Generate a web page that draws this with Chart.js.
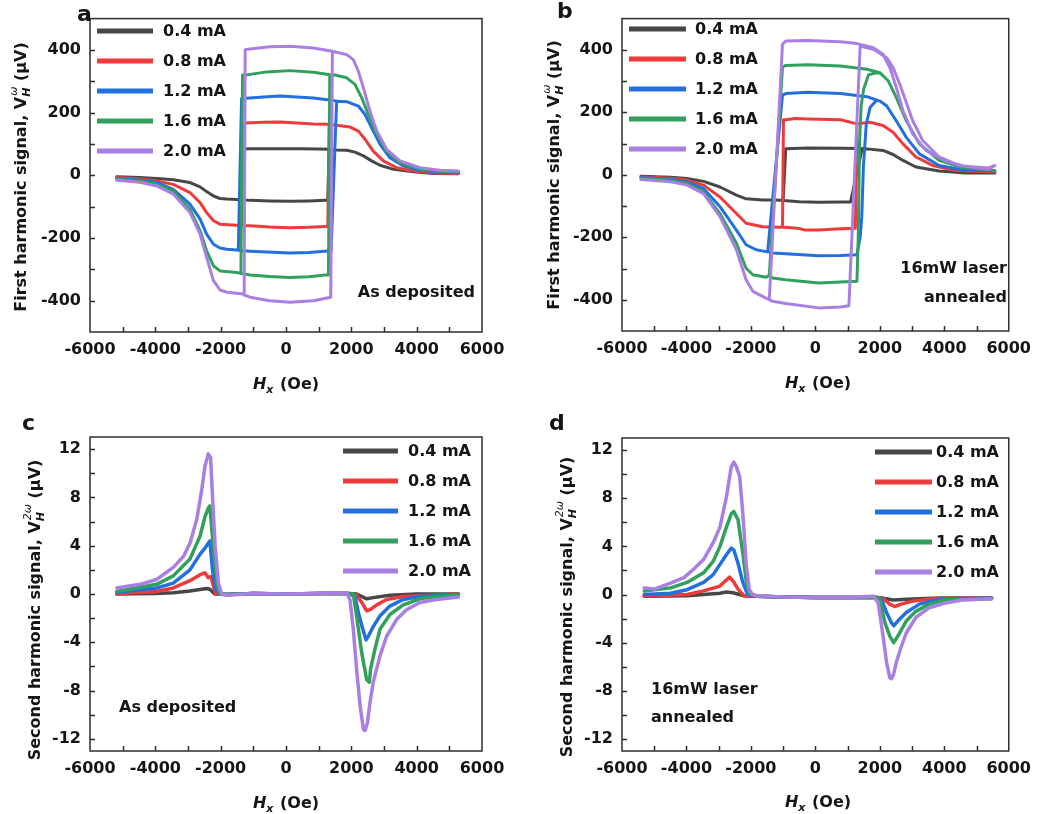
<!DOCTYPE html>
<html>
<head>
<meta charset="utf-8">
<title>Harmonic Hall signals</title>
<script src="https://cdn.jsdelivr.net/npm/chart.js@4.4.1/dist/chart.umd.min.js"></script>
<style>
  body { margin: 0; background: #fff; }
  .wrap { position: relative; width: 1039px; height: 814px; overflow: hidden; }
  canvas { position: absolute; }
</style>
</head>
<body>
<div class="wrap">
  <canvas id="chartA" width="520" height="410" style="left:0;top:0"></canvas>
  <canvas id="chartB" width="519" height="410" style="left:520px;top:0"></canvas>
  <canvas id="chartC" width="520" height="404" style="left:0;top:410px"></canvas>
  <canvas id="chartD" width="519" height="404" style="left:520px;top:410px"></canvas>
</div>
<script>
const currents = ['0.4 mA', '0.8 mA', '1.2 mA', '1.6 mA', '2.0 mA'];
const colors = ['#474747', '#ee3a3a', '#2270df', '#31a05c', '#a97fe4'];
const xTicks = [-6000, -4000, -2000, 0, 2000, 4000, 6000];
const firstTicks = [-400, -200, 0, 200, 400];
const secondTicks = [-12, -8, -4, 0, 4, 8, 12];

// first harmonic loops: negative tail, lower branch, positive tail, upper branch (Hx in Oe, signal in uV)
// panel a, as deposited
const a04Neg = [[-5180,-5],[-4470,-7],[-3960,-10],[-3450,-14],[-2940,-23],[-2630,-37],[-2430,-52],[-2220,-66],[-2020,-74],[-1810,-76],[-1510,-77],[-1350,-78]];
const a04Low = [[-1100,-80],[-500,-82],[120,-83],[700,-82],[1200,-80],[1280,-80]];
const a04Pos = [[1320,83],[1500,81],[1860,80],[2110,74],[2370,62],[2620,46],[2880,32],[3290,19],[3900,11],[4510,6],[5280,5]];
const a04Up = [[1000,84],[400,85],[-180,85],[-700,85],[-1100,85],[-1300,84]];

const a08Neg = [[-5180,-7],[-4470,-11],[-3960,-18],[-3450,-29],[-2940,-55],[-2630,-87],[-2430,-119],[-2220,-145],[-2020,-156],[-1510,-159],[-1350,-160]];
const a08Low = [[-1100,-161],[-500,-165],[120,-167],[700,-166],[1200,-163],[1280,-163]];
const a08Pos = [[1320,163],[1550,160],[1960,154],[2215,141],[2420,115],[2670,77],[2980,46],[3390,24],[3900,14],[4510,7],[5280,6]];
const a08Up = [[840,164],[-180,170],[-700,169],[-1100,168],[-1300,167]];

const a12Neg = [[-5180,-10],[-4470,-15],[-3960,-23],[-3450,-45],[-2940,-92],[-2630,-140],[-2430,-188],[-2220,-220],[-2020,-232],[-1810,-236],[-1510,-238],[-1460,-239]];
const a12Low = [[-1300,-241],[-1100,-242],[120,-248],[700,-246],[1380,-241]];
const a12Pos = [[1550,236],[1860,235],[1960,231],[2215,221],[2420,194],[2620,152],[2880,99],[3180,56],[3590,30],[4100,16],[4710,10],[5280,8]];
const a12Up = [[1450,239],[840,247],[-180,253],[-700,250],[-1100,247],[-1360,245]];

const a16Neg = [[-5180,-12],[-4470,-18],[-3960,-29],[-3450,-50],[-2940,-108],[-2630,-177],[-2430,-241],[-2220,-289],[-2020,-305],[-1510,-310],[-1380,-313]];
const a16Low = [[-1100,-318],[-500,-323],[120,-326],[700,-324],[1200,-318],[1300,-318]];
const a16Pos = [[1340,321],[1500,320],[1860,311],[2110,290],[2320,247],[2520,194],[2780,131],[3080,77],[3490,40],[4100,19],[4710,12],[5280,10]];
const a16Up = [[840,329],[120,334],[-600,330],[-1100,322],[-1330,320]];

const a20Neg = [[-5180,-16],[-4470,-22],[-3960,-34],[-3450,-60],[-2940,-119],[-2630,-188],[-2430,-262],[-2220,-336],[-2020,-366],[-1810,-373],[-1310,-379],[-1280,-382]];
const a20Low = [[-1100,-389],[-500,-400],[120,-405],[840,-400],[1370,-389]];
const a20Pos = [[1420,396],[1860,385],[2060,369],[2215,332],[2370,279],[2570,205],[2780,141],[3080,83],[3490,46],[4100,24],[4710,16],[5280,14]];
const a20Up = [[840,406],[120,412],[-500,410],[-1100,403],[-1250,401]];

// panel b, 16mW laser annealed
const b04Neg = [[-5410,-5],[-4490,-8],[-3980,-12],[-3470,-21],[-2960,-39],[-2450,-65],[-2150,-77],[-1640,-81],[-1230,-81],[-1000,-82]];
const b04Low = [[-500,-86],[100,-88],[780,-87],[1090,-87],[1440,78]];
const b04Pos = [[1600,83],[2100,78],[2410,65],[2720,46],[3120,25],[3840,12],[4650,6],[5570,6]];
const b04Up = [[1400,84],[780,85],[-240,86],[-920,83]];

const b08Neg = [[-5410,-7],[-4490,-11],[-3980,-17],[-3470,-33],[-2960,-71],[-2450,-124],[-2150,-155],[-1640,-166],[-1130,-168],[-1020,-168]];
const b08Low = [[-920,-168],[-500,-172],[-310,-177],[100,-177],[780,-173],[1240,-171]];
const b08Pos = [[1290,163],[1700,168],[2100,158],[2410,136],[2720,99],[3120,57],[3640,30],[4350,14],[5570,9]];
const b08Up = [[780,176],[-240,179],[-620,180],[-920,176],[-990,176]];

const b12Neg = [[-5410,-9],[-4490,-14],[-3980,-23],[-3470,-44],[-2960,-102],[-2450,-177],[-2150,-224],[-1840,-240],[-1530,-246],[-1480,-246]];
const b12Low = [[-1330,-250],[-920,-253],[100,-259],[780,-258],[1290,-256],[1390,-200],[1440,-134],[1490,25],[1580,163],[1700,216],[1900,239]];
const b12Pos = [[2000,236],[2210,221],[2510,173],[2820,120],[3230,67],[3840,30],[4550,16],[5570,12]];
const b12Up = [[1600,250],[780,260],[-240,264],[-920,260],[-1020,255]];

const b16Neg = [[-5410,-11],[-4490,-17],[-3980,-28],[-3470,-55],[-2960,-124],[-2450,-219],[-2150,-299],[-1940,-320],[-1530,-328],[-1430,-322]];
const b16Low = [[-1330,-330],[-920,-336],[100,-346],[780,-343],[1290,-341],[1330,-200],[1370,100],[1420,220],[1500,275],[1650,320],[1850,326]];
const b16Pos = [[2000,327],[2260,301],[2510,248],[2820,173],[3230,99],[3840,46],[4550,23],[5570,14]];
const b16Up = [[1600,338],[780,348],[-240,352],[-920,350],[-1020,345]];

const b20Neg = [[-5410,-15],[-4490,-22],[-3980,-33],[-3470,-60],[-2960,-134],[-2450,-240],[-2150,-336],[-1940,-373],[-1640,-389],[-1430,-400]];
const b20Low = [[-1330,-405],[-920,-412],[100,-426],[780,-423],[1040,-419],[1390,412],[1800,402],[2210,375],[2410,343],[2620,290],[2820,232],[3020,173],[3330,110],[3840,57],[4450,30],[5370,18]];
const b20Pos = [[5570,30]];
const b20Up = [[5370,22],[4650,27],[4040,44],[3430,78],[3020,131],[2720,205],[2510,280],[2310,343],[2100,386],[1800,407],[1290,420],[780,426],[-240,430],[-920,428],[-1020,418]];

// second harmonic sweeps
const c04 = [[-5180,0],[-4000,0.05],[-3450,0.1],[-2940,0.25],[-2430,0.45],[-2330,0.4],[-2180,0],[-1800,-0.05],[-1000,0.05],[0,0],[1000,0.05],[1900,0.05],[2160,0],[2470,-0.4],[2670,-0.3],[3180,-0.1],[4000,0],[5280,0]];
const c08 = [[-5180,0.05],[-3960,0.2],[-3450,0.5],[-2940,1.1],[-2630,1.6],[-2480,1.75],[-2380,1.35],[-2300,1.45],[-2150,0],[-1800,-0.05],[-1000,0.05],[0,0],[1000,0.05],[1900,0.05],[2160,-0.1],[2320,-0.7],[2470,-1.4],[2570,-1.3],[2780,-0.9],[3080,-0.45],[3590,-0.2],[5280,0]];
const c12 = [[-5180,0.15],[-3960,0.5],[-3450,0.9],[-2940,2.0],[-2630,3.3],[-2480,3.8],[-2380,4.2],[-2330,4.4],[-2250,2.0],[-2150,0.4],[-2020,0],[-1800,-0.05],[-1000,0.05],[0,0],[1000,0.05],[1900,0.05],[2110,-0.2],[2220,-1.6],[2350,-2.9],[2450,-3.8],[2520,-3.5],[2670,-2.7],[2880,-1.8],[3180,-1.0],[3590,-0.45],[4100,-0.2],[5280,-0.05]];
const c16 = [[-5180,0.2],[-3960,0.8],[-3450,1.5],[-2940,2.9],[-2630,4.8],[-2480,6.4],[-2380,7.1],[-2330,7.3],[-2230,4.0],[-2120,0.9],[-2020,0],[-1800,-0.05],[-1000,0.05],[0,0],[1000,0.05],[1900,0.05],[2060,0],[2160,-1.8],[2320,-4.9],[2470,-7.1],[2550,-7.3],[2590,-6.2],[2720,-4.6],[2880,-2.9],[3180,-1.7],[3590,-0.9],[4100,-0.4],[4610,-0.2],[5280,-0.1]];
const c20 = [[-5180,0.5],[-4470,0.8],[-3960,1.2],[-3450,2.2],[-3140,3.1],[-2940,4.2],[-2730,6.2],[-2580,8.6],[-2480,10.6],[-2380,11.6],[-2310,11.3],[-2250,8.1],[-2170,4.0],[-2070,0.9],[-1970,0],[-1800,-0.1],[-1000,0.05],[0,0],[1000,0.05],[1860,0.1],[1960,-0.5],[2060,-2.9],[2160,-6.2],[2270,-9.3],[2370,-11.2],[2420,-11.3],[2490,-10.7],[2570,-9.0],[2670,-7.3],[2880,-5.1],[3080,-3.5],[3390,-2.1],[3690,-1.3],[4100,-0.7],[4610,-0.45],[5280,-0.25]];

const d04 = [[-5310,-0.15],[-3980,-0.1],[-2960,0.1],[-2760,0.2],[-2560,0.15],[-2150,-0.15],[-1800,-0.15],[-1000,-0.2],[0,-0.25],[1000,-0.25],[1900,-0.25],[2100,-0.3],[2410,-0.45],[2820,-0.4],[3840,-0.3],[5470,-0.3]];
const d08 = [[-5310,-0.1],[-3980,0],[-3470,0.3],[-2960,0.7],[-2760,1.2],[-2660,1.45],[-2550,1.1],[-2400,0.45],[-2200,-0.15],[-1800,-0.15],[-1000,-0.2],[0,-0.25],[1000,-0.25],[1900,-0.25],[2100,-0.35],[2310,-0.8],[2460,-1.0],[2660,-0.8],[3020,-0.55],[3640,-0.35],[5470,-0.3]];
const d12 = [[-5310,0],[-4490,0.1],[-3980,0.4],[-3470,1.0],[-3170,1.65],[-2960,2.5],[-2760,3.3],[-2610,3.85],[-2530,3.7],[-2400,2.6],[-2250,1.0],[-2100,0],[-1800,-0.15],[-1000,-0.2],[0,-0.25],[1000,-0.25],[1900,-0.25],[2050,-0.4],[2210,-1.5],[2360,-2.35],[2430,-2.6],[2560,-2.2],[2820,-1.5],[3230,-0.8],[3840,-0.4],[5470,-0.3]];
const d16 = [[-5310,0.3],[-4490,0.55],[-3980,1.0],[-3470,1.8],[-3170,2.75],[-2960,4.0],[-2760,5.6],[-2610,6.7],[-2530,6.9],[-2400,6.2],[-2250,3.4],[-2150,1.2],[-2050,0.1],[-1800,-0.15],[-1000,-0.2],[0,-0.25],[1000,-0.25],[1900,-0.25],[2000,-0.4],[2160,-2.35],[2310,-3.45],[2430,-4.0],[2560,-3.45],[2820,-2.2],[3120,-1.4],[3530,-0.8],[4040,-0.45],[5470,-0.35]];
const d20 = [[-5310,0.55],[-5000,0.45],[-4490,0.95],[-4080,1.4],[-3780,2.1],[-3470,2.9],[-3170,4.3],[-2960,5.6],[-2760,8.1],[-2610,10.6],[-2530,11.0],[-2450,10.6],[-2350,9.8],[-2250,6.7],[-2150,2.6],[-2050,0.4],[-1950,0],[-1800,-0.1],[-1000,-0.2],[0,-0.25],[1000,-0.25],[1800,-0.15],[1950,-0.7],[2100,-3.45],[2210,-5.65],[2310,-6.9],[2360,-7.0],[2430,-6.6],[2510,-5.65],[2670,-4.3],[2820,-3.2],[3120,-1.9],[3530,-1.1],[4040,-0.7],[4550,-0.45],[5470,-0.35]];

const FONT = '"DejaVu Sans", sans-serif';
const tickFont = { family: FONT, size: 16, weight: 'bold' };

// forward sweep then reverse sweep, tails are shared by both
function loop(neg, low, pos, up) {
  const fwd = neg.concat(low, pos);
  const rev = pos.slice().reverse().concat(up, neg.slice().reverse());
  return fwd.concat(rev).map(p => ({ x: p[0], y: p[1] }));
}
function sweep(pts) {
  return pts.map(p => ({ x: p[0], y: p[1] }));
}

function richWidth(ctx, parts) {
  let w = 0;
  parts.forEach(p => {
    if (p.sub !== undefined) {
      ctx.font = 'bold italic 11px ' + FONT;
      const a = ctx.measureText(p.sub).width;
      ctx.font = 'italic 11px ' + FONT;
      const b = p.sup ? ctx.measureText(p.sup).width : 0;
      w += Math.max(a, b) + 1;
    } else {
      ctx.font = p.f;
      w += ctx.measureText(p.t).width;
    }
  });
  return w;
}

function drawRich(ctx, parts, x0) {
  let x = x0;
  parts.forEach(p => {
    if (p.sub !== undefined) {
      ctx.font = 'bold italic 11px ' + FONT;
      const a = ctx.measureText(p.sub).width;
      ctx.fillText(p.sub, x, 4);
      let b = 0;
      if (p.sup) {
        ctx.font = 'italic 11px ' + FONT;
        b = ctx.measureText(p.sup).width;
        ctx.fillText(p.sup, x + 1, -9);
      }
      x += Math.max(a, b) + 1;
    } else {
      ctx.font = p.f;
      ctx.fillText(p.t, x, 0);
      x += ctx.measureText(p.t).width;
    }
  });
}

function panelPlugin(cfg) {
  return {
    id: 'panel' + cfg.letter,
    afterDatasetsDraw(chart) {
      const { ctx, chartArea: a, scales: { x, y } } = chart;
      ctx.save();
      ctx.strokeStyle = '#2e2e2e';
      ctx.lineWidth = 1.5;
      ctx.strokeRect(a.left, a.top, a.right - a.left, a.bottom - a.top);
      ctx.beginPath();
      for (let v = -5000; v <= 5000; v += 1000) {
        const px = Math.round(x.getPixelForValue(v)) + 0.5;
        ctx.moveTo(px, a.bottom);
        ctx.lineTo(px, a.bottom - 5);
      }
      for (let v = cfg.minor[0]; v <= cfg.minor[1]; v += cfg.minor[2]) {
        const py = Math.round(y.getPixelForValue(v)) + 0.5;
        ctx.moveTo(a.left, py);
        ctx.lineTo(a.left + 5, py);
      }
      ctx.stroke();

      // legend
      const lg = cfg.legend;
      chart.data.datasets.forEach((ds, i) => {
        const ly = lg.y0 + i * lg.dy;
        ctx.strokeStyle = ds.borderColor;
        ctx.lineWidth = 5;
        ctx.lineCap = 'butt';
        ctx.beginPath();
        ctx.moveTo(lg.x0, ly);
        ctx.lineTo(lg.x1, ly);
        ctx.stroke();
        ctx.fillStyle = '#151515';
        ctx.font = 'bold 16px ' + FONT;
        ctx.textAlign = 'left';
        ctx.textBaseline = 'middle';
        ctx.fillText(ds.label, lg.tx, ly + 1);
      });

      // sample note
      ctx.textBaseline = 'alphabetic';
      ctx.textAlign = cfg.note.align;
      cfg.note.lines.forEach((t, i) => {
        ctx.fillText(t, cfg.note.x, cfg.note.y[i]);
      });
      ctx.restore();
    },
    afterDraw(chart) {
      const { ctx } = chart;
      ctx.save();
      ctx.fillStyle = '#151515';
      ctx.textBaseline = 'alphabetic';
      ctx.textAlign = 'left';

      // panel letter
      ctx.font = 'bold 22px ' + FONT;
      ctx.fillText(cfg.letter, cfg.letterPos[0], cfg.letterPos[1]);

      // y title, rotated
      const yw = richWidth(ctx, cfg.yTitle);
      ctx.translate(cfg.yTitlePos[0], cfg.yTitlePos[1]);
      ctx.rotate(-Math.PI / 2);
      drawRich(ctx, cfg.yTitle, -yw / 2);
      ctx.setTransform(1, 0, 0, 1, 0, 0);

      // x title
      const xw = richWidth(ctx, xTitle);
      ctx.translate(cfg.xTitlePos[0], cfg.xTitlePos[1]);
      drawRich(ctx, xTitle, -xw / 2);
      ctx.restore();
    }
  };
}

const xTitle = [
  { t: 'H', f: 'bold italic 16px ' + FONT },
  { sub: 'x' },
  { t: ' (Oe)', f: 'bold 16px ' + FONT }
];
const firstTitle = [
  { t: 'First harmonic signal, V', f: 'bold 16px ' + FONT },
  { sub: 'H', sup: 'ω' },
  { t: ' (μV)', f: 'bold 16px ' + FONT }
];
const secondTitle = [
  { t: 'Second harmonic signal, V', f: 'bold 16px ' + FONT },
  { sub: 'H', sup: '2ω' },
  { t: ' (μV)', f: 'bold 16px ' + FONT }
];

function makeChart(id, series, cfg) {
  return new Chart(document.getElementById(id), {
    type: 'line',
    data: {
      datasets: series.map((pts, i) => ({
        label: currents[i],
        data: pts,
        borderColor: colors[i],
        backgroundColor: colors[i],
        borderWidth: cfg.lineWidth,
        pointRadius: 0,
        tension: 0,
        fill: false,
        order: series.length - i,
        borderJoinStyle: 'round',
        borderCapStyle: 'round'
      }))
    },
    options: {
      responsive: false,
      animation: false,
      events: [],
      layout: { padding: { top: cfg.area.top, right: cfg.area.right, left: 0, bottom: 0 } },
      plugins: { legend: { display: false }, tooltip: { enabled: false } },
      scales: {
        x: {
          type: 'linear',
          min: -6000,
          max: 6000,
          afterFit: s => { s.height = cfg.area.xh; },
          afterBuildTicks: s => { s.ticks = xTicks.map(v => ({ value: v })); },
          grid: { display: false, drawTicks: false },
          border: { display: false },
          ticks: { padding: 8, font: tickFont, color: '#151515', maxRotation: 0, autoSkip: false, callback: v => String(v) }
        },
        y: {
          type: 'linear',
          min: cfg.yRange[0],
          max: cfg.yRange[1],
          afterFit: s => { s.width = cfg.area.yw; },
          afterBuildTicks: s => { s.ticks = cfg.yTicks.map(v => ({ value: v })); },
          grid: { display: false, drawTicks: false },
          border: { display: false },
          ticks: { padding: 9, font: tickFont, color: '#151515', autoSkip: false, callback: v => String(v) }
        }
      }
    },
    plugins: [panelPlugin(cfg)]
  });
}

makeChart('chartA', [
  loop(a04Neg, a04Low, a04Pos, a04Up),
  loop(a08Neg, a08Low, a08Pos, a08Up),
  loop(a12Neg, a12Low, a12Pos, a12Up),
  loop(a16Neg, a16Low, a16Pos, a16Up),
  loop(a20Neg, a20Low, a20Pos, a20Up)
], {
  letter: 'a', letterPos: [77, 21],
  area: { top: 18, right: 38, xh: 78, yw: 90 },
  yRange: [-500, 500], yTicks: firstTicks, minor: [-400, 400, 100],
  lineWidth: 3,
  legend: { x0: 97, x1: 153, tx: 163, y0: 31, dy: 30 },
  note: { lines: ['As deposited'], x: 475, y: [297], align: 'right' },
  yTitle: firstTitle, yTitlePos: [26, 177],
  xTitlePos: [286, 389]
});

makeChart('chartB', [
  loop(b04Neg, b04Low, b04Pos, b04Up),
  loop(b08Neg, b08Low, b08Pos, b08Up),
  loop(b12Neg, b12Low, b12Pos, b12Up),
  loop(b16Neg, b16Low, b16Pos, b16Up),
  loop(b20Neg, b20Low, b20Pos, b20Up)
], {
  letter: 'b', letterPos: [37, 18],
  area: { top: 17, right: 25, xh: 79, yw: 102 },
  yRange: [-500, 500], yTicks: firstTicks, minor: [-400, 400, 100],
  lineWidth: 3,
  legend: { x0: 109, x1: 166, tx: 175, y0: 29, dy: 30 },
  note: { lines: ['16mW laser', 'annealed'], x: 487, y: [273, 302], align: 'right' },
  yTitle: firstTitle, yTitlePos: [39, 175],
  xTitlePos: [298, 388]
});

makeChart('chartC', [sweep(c04), sweep(c08), sweep(c12), sweep(c16), sweep(c20)], {
  letter: 'c', letterPos: [22, 20],
  area: { top: 27, right: 38, xh: 63, yw: 90 },
  yRange: [-13, 13], yTicks: secondTicks, minor: [-12, 12, 2],
  lineWidth: 3.5,
  legend: { x0: 343, x1: 398, tx: 408, y0: 41, dy: 30 },
  note: { lines: ['As deposited'], x: 119, y: [302], align: 'left' },
  yTitle: secondTitle, yTitlePos: [40, 200],
  xTitlePos: [286, 398]
});

makeChart('chartD', [sweep(d04), sweep(d08), sweep(d12), sweep(d16), sweep(d20)], {
  letter: 'd', letterPos: [29, 20],
  area: { top: 28, right: 25, xh: 63, yw: 102 },
  yRange: [-13, 13], yTicks: secondTicks, minor: [-12, 12, 2],
  lineWidth: 3.5,
  legend: { x0: 355, x1: 412, tx: 416, y0: 42, dy: 30 },
  note: { lines: ['16mW laser', 'annealed'], x: 131, y: [284, 312], align: 'left' },
  yTitle: secondTitle, yTitlePos: [52, 197],
  xTitlePos: [298, 397]
});
</script>
</body>
</html>
